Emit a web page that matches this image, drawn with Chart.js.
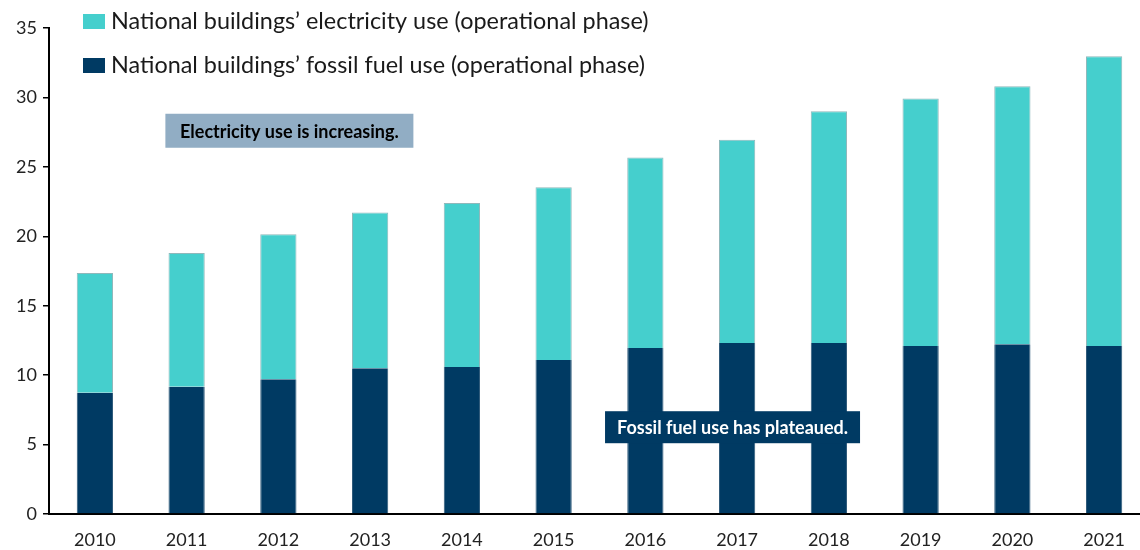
<!DOCTYPE html>
<html><head><meta charset="utf-8">
<script src="https://cdn.jsdelivr.net/npm/chart.js@4.4.1/dist/chart.umd.min.js"></script>
<style>
html,body{margin:0;padding:0;background:#fff;overflow:hidden;}
#wrap{position:relative;width:1150px;height:550px;}
</style></head>
<body>
<div id="wrap"><canvas id="c" width="1150" height="550"></canvas></div>
<script>
const years = ['2010','2011','2012','2013','2014','2015','2016','2017','2018','2019','2020','2021'];
const fossilFuel = [8.73, 9.17, 9.70, 10.49, 10.58, 11.09, 11.95, 12.31, 12.31, 12.10, 12.22, 12.10];
const electricity = [8.62, 9.62, 10.44, 11.23, 11.82, 12.45, 13.72, 14.65, 16.70, 17.83, 18.59, 20.87];
const yTicks = [0, 5, 10, 15, 20, 25, 30, 35];
const legendLabels = ['National buildings\u2019 electricity use (operational phase)', 'National buildings\u2019 fossil fuel use (operational phase)'];
const notes = [
  {text:'Electricity use is increasing.', xIndex:2.12, yValue:27.6, w:248, h:34, bg:'#91adc4', color:'#000'},
  {text:'Fossil fuel use has plateaued.', xIndex:6.95, yValue:6.25, w:255, h:32, bg:'#003a63', color:'#fff'}
];
const COL_ELEC = '#45cfcd', COL_FOSSIL = '#003a63';
const FONT = 'Lato, "Noto Sans", sans-serif';

const overlay = {
  id:'overlay',
  afterDraw(chart){
    const ctx = chart.ctx, xs = chart.scales.x, ys = chart.scales.y;
    ctx.save();
    const cols = [COL_ELEC, COL_FOSSIL];
    const rowsY = [21, 65];
    ctx.font = '23.4px ' + FONT;
    ctx.textBaseline = 'middle';
    ctx.textAlign = 'left';
    legendLabels.forEach((t,i)=>{
      ctx.fillStyle = cols[i];
      ctx.fillRect(83, rowsY[i]-7, 22, 15);
      ctx.fillStyle = '#1a1a1a';
      ctx.fillText(t, 111, rowsY[i]);
    });
    ctx.font = 'bold 18px ' + FONT;
    notes.forEach(n=>{
      const cx = xs.getPixelForValue(n.xIndex), cy = ys.getPixelForValue(n.yValue);
      ctx.fillStyle = n.bg;
      ctx.fillRect(cx - n.w/2, cy - n.h/2, n.w, n.h);
      ctx.fillStyle = n.color;
      ctx.textAlign = 'center';
      ctx.fillText(n.text, cx, cy+1);
    });
    ctx.restore();
  }
};

new Chart(document.getElementById('c'), {
  type:'bar',
  data:{
    labels: years,
    datasets:[
      {label:legendLabels[1], data:fossilFuel, backgroundColor:COL_FOSSIL, borderColor:'#2f5a7a', borderWidth:{left:1,right:1,top:0,bottom:0}, categoryPercentage:1, barPercentage:0.395},
      {label:legendLabels[0], data:electricity, backgroundColor:COL_ELEC, borderColor:'#8fb8bb', borderWidth:{left:1,right:1,top:1,bottom:0}, categoryPercentage:1, barPercentage:0.395}
    ]
  },
  options:{
    responsive:false,
    animation:false,
    layout:{padding:{top:28, right:0, bottom:0, left:0}},
    plugins:{legend:{display:false}, tooltip:{enabled:false}},
    scales:{
      x:{
        stacked:true,
        afterFit(s){ s.height = 36; },
        grid:{display:true, drawOnChartArea:false, drawTicks:false},
        border:{display:true, color:'#000', width:2},
        ticks:{color:'#222', font:{family:FONT, size:18}, padding:15, maxRotation:0}
      },
      y:{
        stacked:true,
        min:0, max:35,
        afterBuildTicks(s){ s.ticks = yTicks.map(v=>({value:v})); },
        afterFit(s){ s.width = 49; },
        grid:{display:true, drawOnChartArea:false, drawTicks:true, tickLength:6, color:'#000', lineWidth:1.5},
        border:{display:true, color:'#000', width:2},
        ticks:{color:'#222', font:{family:FONT, size:18}, padding:6}
      }
    }
  },
  plugins:[overlay]
});
</script>
</body></html>
